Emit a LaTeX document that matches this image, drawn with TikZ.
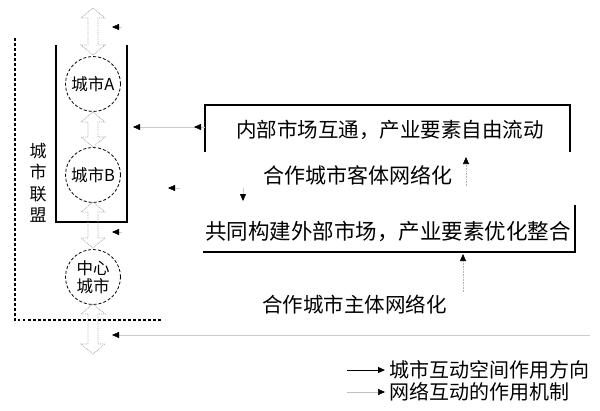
\documentclass[tikz,border=0pt]{standalone}
\usepackage{fontspec}
\setmainfont{Liberation Serif}
\newfontfamily\cjk{Noto Sans CJK SC}
\usetikzlibrary{arrows.meta}
\newcommand\dblv[3]{\draw[dblarrow] (#1-5,#2+10) -- (#1-12,#2+10) -- (#1,#2) -- (#1+12,#2+10) -- (#1+5,#2+10) -- (#1+5,#3-10) -- (#1+12,#3-10) -- (#1,#3) -- (#1-12,#3-10) -- (#1-5,#3-10) -- cycle;}
\begin{document}
\begin{tikzpicture}[x=1pt,y=-1pt,
  txt/.style={font=\cjk\fontsize{20.5}{23}\selectfont, inner sep=0pt},
  city/.style={circle, draw, densely dashed, line width=0.8pt, minimum size=55pt, inner sep=0pt, font=\cjk\fontsize{16.5}{18}\selectfont, align=center},
  dblarrow/.style={draw=gray!70, densely dotted, line width=0.8pt},
  frame/.style={line width=1.2pt},
  bound/.style={line width=1.3pt, dash pattern=on 2.5pt off 2.5pt},
  tip/.style={-{Triangle[length=7pt,width=6pt,color=black,fill=black]}, draw=gray!40, line width=0.4pt},
  flow/.style={-{Triangle[length=7pt,width=6pt,color=black,fill=black]}, draw=gray!60, densely dotted, line width=0.6pt},
  legarrow/.style={-{Triangle[length=7pt,width=6pt,color=black,fill=black]}, line width=1pt}
]
\useasboundingbox (0,0) rectangle (600,410);
% outer dashed boundary
\coordinate (bt) at (15,38);
\coordinate (bc) at (15,320);
\coordinate (br) at (162,320);
\draw[bound] (bt) -- (bc) -- (br);
\node[txt, align=center, font=\cjk\fontsize{17}{21.5}\selectfont] (lbl) at (38,183) {城\\市\\联\\盟};
% inner bracket
\coordinate (fa) at (56,45);
\coordinate (fb) at (56,222);
\coordinate (fc) at (127,222);
\coordinate (fd) at (127,45);
\draw[frame] (fa) -- (fb) -- (fc) -- (fd);
% cities
\node[city] (c1) at (93,84) {城市A};
\node[city] (c2) at (93,175) {城市B};
\node[city] (c3) at (93,277) {中心\\城市};
% hollow double arrows
\dblv{93}{8}{55}
\dblv{93}{112}{147}
\dblv{93}{202}{248}
\dblv{93}{304}{354}
% box 1
\coordinate (b1a) at (205,152);
\coordinate (b1b) at (205,105);
\coordinate (b1c) at (570,105);
\coordinate (b1d) at (570,152);
\draw[frame] (b1a) -- (b1b) -- (b1c) -- (b1d);
\node[txt] (t1) at (390,130) {内部市场互通，产业要素自由流动};
\node[txt, anchor=west, font=\cjk\fontsize{21}{23}\selectfont] (t2) at (263,175) {合作城市客体网络化};
% box 2
\coordinate (b2a) at (203,252);
\coordinate (b2b) at (575,252);
\coordinate (b2c) at (575,205);
\draw[frame] (b2a) -- (b2b) -- (b2c);
\node[txt, font=\cjk\fontsize{21.5}{23}\selectfont] (t3) at (388,232) {共同构建外部市场，产业要素优化整合};
\node[txt, anchor=west, font=\cjk\fontsize{20.5}{23}\selectfont] (t4) at (262,305) {合作城市主体网络化};
% small arrows
\coordinate (s1) at (122,27);  \coordinate (e1) at (112,27);
\coordinate (s2) at (197,127); \coordinate (e2) at (133,127);
\coordinate (s3) at (205,127); \coordinate (e3) at (194,127);
\coordinate (s4) at (180,188); \coordinate (e4) at (168,188);
\coordinate (s5) at (122,232); \coordinate (e5) at (112,232);
\coordinate (s6) at (590,335); \coordinate (e6) at (112,335);
\coordinate (s7) at (243,188); \coordinate (e7) at (243,201);
\draw[tip] (s1) -- (e1);
\draw[tip] (s2) -- (e2);
\draw[tip] (s3) -- (e3);
\draw[tip] (s4) -- (e4);
\draw[tip] (s5) -- (e5);
\draw[tip] (s6) -- (e6);
\draw[tip] (s7) -- (e7);
% upward flows
\coordinate (u1) at (466,186); \coordinate (v1) at (466,157);
\coordinate (u2) at (463,292); \coordinate (v2) at (463,254);
\draw[flow] (u1) -- (v1);
\draw[flow] (u2) -- (v2);
% legend
\coordinate (l1a) at (347,370); \coordinate (l1b) at (385,370);
\coordinate (l2a) at (347,392); \coordinate (l2b) at (385,392);
\draw[legarrow] (l1a) -- (l1b);
\draw[legarrow, draw=gray!50, line width=0.5pt] (l2a) -- (l2b);
\node[txt, anchor=west, font=\cjk\fontsize{20}{22}\selectfont] (g1) at (389,370) {城市互动空间作用方向};
\node[txt, anchor=west, font=\cjk\fontsize{20}{22}\selectfont] (g2) at (389,392) {网络互动的作用机制};
\end{tikzpicture}
\end{document}
